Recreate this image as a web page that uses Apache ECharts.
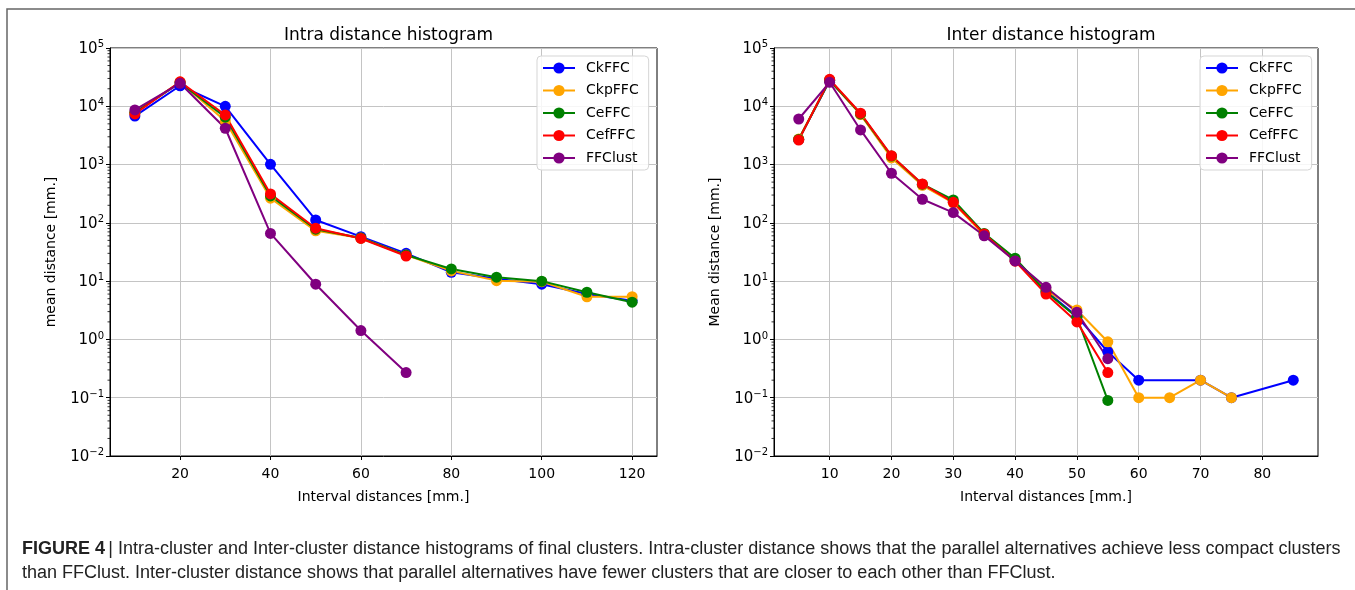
<!DOCTYPE html>
<html>
<head>
<meta charset="utf-8">
<script src="https://cdn.jsdelivr.net/npm/echarts@6/dist/echarts.min.js"></script>
<style>html,body{margin:0;padding:0;background:#fff;}#c{width:1355px;height:590px;}</style>
</head>
<body>
<div id="c"></div>
<script>
// ---------- data ----------
const seriesNames = ['CkFFC', 'CkpFFC', 'CeFFC', 'CefFFC', 'FFClust'];
const seriesColors = ['#0000ff', '#ffa500', '#008000', '#ff0000', '#800080'];

// Intra distance histogram
const intraX = [10, 20, 30, 40, 50, 60, 70, 80, 90, 100, 110, 120];
const intraCkFFC   = [6800, 22500, 10000, 1010, 112, 58, 30, 14.2, 11, 8.85, 6.0, 4.6];
const intraCkpFFC  = [7800, 26000, 5600, 265, 73, 55, 28, 15, 10.2, 9.8, 5.4, 5.4];
const intraCeFFC   = [7800, 25500, 6500, 290, 78, 55, 28, 16.2, 11.7, 10, 6.45, 4.35];
const intraCefFFC  = [7400, 26300, 7100, 313, 81, 54, 27, null, null, null, null, null];
const intraFFClust = [8650, 24800, 4200, 66, 8.85, 1.42, 0.27, null, null, null, null, null];

// Inter distance histogram
const interX = [5, 10, 15, 20, 25, 30, 35, 40, 45, 50, 55, 60, 65, 70, 75, 80, 85];
const interCkFFC   = [2700, 27500, 7400, 1350, 450, 230, 63, 23, 6.8, 2.5, 0.615, 0.2, null, 0.2, 0.1, null, 0.2];
const interCkpFFC  = [2750, 28000, 7200, 1300, 440, 220, 62, 23, 7.0, 3.2, 0.91, 0.1, 0.1, 0.2, 0.1, null, null];
const interCeFFC   = [2700, 28000, 7400, 1400, 460, 247, 66, 24.7, 6.5, 2.4, 0.09, null, null, null, null, null, null];
const interCefFFC  = [2640, 29000, 7600, 1420, 465, 225, 64.6, 22, 6.0, 2.0, 0.27, null, null, null, null, null, null];
const interFFClust = [6050, 25800, 3930, 710, 254, 150, 60, 22.2, 7.85, 2.93, 0.467, null, null, null, null, null, null];

// tick labels
const intraXTicks = [20, 40, 60, 80, 100, 120];
const interXTicks = [10, 20, 30, 40, 50, 60, 70, 80];
const yMin = 0.01, yMax = 100000;
const titles = ['Intra distance histogram', 'Inter distance histogram'];
const yNames = ['mean distance [mm.]', 'Mean distance [mm.]'];
const xName = 'Interval distances [mm.]';
const captionBold = 'FIGURE 4';
const captionLine1 = ' Intra-cluster and Inter-cluster distance histograms of final clusters. Intra-cluster distance shows that the parallel alternatives achieve less compact clusters';
const captionLine2 = 'than FFClust. Inter-cluster distance shows that parallel alternatives have fewer clusters that are closer to each other than FFClust.';

// ---------- chart ----------
const FONT = 'DejaVu Sans';
const CAP_FONT = 'Liberation Sans';
const intraSets = [intraCkFFC, intraCkpFFC, intraCeFFC, intraCefFFC, intraFFClust];
const interSets = [interCkFFC, interCkpFFC, interCeFFC, interCefFFC, interFFClust];

function pairs(xs, ys) { return xs.map((x, i) => [x, ys[i]]); }

// minor log tick positions (2..9 x 10^n)
const minorVals = [];
for (let e = -2; e < 5; e++) for (let m = 2; m <= 9; m++) minorVals.push(m * Math.pow(10, e));

function minorTickRender(params, api) {
  const p = api.coord([api.value(0), api.value(1)]);
  const x0 = params.coordSys.x;
  return { type: 'line', shape: { x1: x0 - 2.5, y1: p[1], x2: x0, y2: p[1] },
           style: { stroke: '#000', lineWidth: 0.8 } };
}

function yLabel(v) {
  const e = Math.round(Math.log10(v));
  return '{b|10}{s|' + (e < 0 ? '\u2212' + (-e) : e) + '}';
}

const grids = [
  { left: 110, top: 48, width: 547, height: 408 },
  { left: 774, top: 48, width: 544, height: 408 }
];
const xRanges = [[4.5, 125.5], [1, 89]];
const xTicks = [intraXTicks, interXTicks];

const option = {
  animation: false,
  backgroundColor: '#fff',
  textStyle: { fontFamily: FONT },
  title: titles.map((t, i) => ({
    text: t, left: grids[i].left + grids[i].width / 2, top: 22, textAlign: 'center',
    textStyle: { fontFamily: FONT, fontSize: 17, fontWeight: 'normal', color: '#000' }
  })),
  grid: grids.map(g => Object.assign({ show: true, borderColor: '#000', borderWidth: 1, backgroundColor: 'transparent' }, g)),
  legend: [0, 1].map(i => ({
    data: seriesNames,
    orient: 'vertical',
    left: i === 0 ? 537 : 1200,
    top: 56,
    itemWidth: 32, itemHeight: 14, itemGap: 8.5,
    padding: [5, 10, 5, 5],
    backgroundColor: 'rgba(255,255,255,0.85)',
    borderColor: '#d5d5d5', borderWidth: 1, borderRadius: 4,
    textStyle: { fontFamily: FONT, fontSize: 14, color: '#000', padding: [0, 0, 0, 6] }
  })),
  xAxis: [0, 1].map(i => ({
    type: 'value', gridIndex: i, min: xRanges[i][0], max: xRanges[i][1],
    name: xName, nameLocation: 'middle', nameGap: 34,
    nameTextStyle: { fontFamily: FONT, fontSize: 14, color: '#000' },
    axisLine: { show: true, lineStyle: { color: '#000', width: 1 } },
    axisTick: { show: true, length: 4, customValues: xTicks[i], lineStyle: { color: '#000' } },
    axisLabel: { customValues: xTicks[i], fontFamily: FONT, fontSize: 14, color: '#000', margin: 11 },
    splitLine: { show: true, lineStyle: { color: '#c4c4c4', width: 1 } }
  })),
  yAxis: [0, 1].map(i => ({
    type: 'log', logBase: 10, gridIndex: i, min: yMin, max: yMax, splitNumber: 7,
    name: yNames[i], nameLocation: 'middle', nameGap: 52,
    nameTextStyle: { fontFamily: FONT, fontSize: 14, color: '#000' },
    axisLine: { show: true, lineStyle: { color: '#000', width: 1 } },
    axisTick: { show: true, length: 4, lineStyle: { color: '#000' } },
    minorTick: { show: false },
    axisLabel: {
      formatter: yLabel, margin: 6,
      rich: {
        b: { fontFamily: FONT, fontSize: 15, color: '#000', lineHeight: 17, verticalAlign: 'bottom' },
        s: { fontFamily: FONT, fontSize: 10, color: '#000', lineHeight: 11, verticalAlign: 'top' }
      }
    },
    splitLine: { show: true, lineStyle: { color: '#c4c4c4', width: 1 } }
  })),
  series: []
};

[[intraX, intraSets], [interX, interSets]].forEach(([xs, sets], gi) => {
  sets.forEach((ys, si) => {
    option.series.push({
      name: seriesNames[si], type: 'line', xAxisIndex: gi, yAxisIndex: gi,
      data: pairs(xs, ys), connectNulls: true,
      symbol: 'circle', symbolSize: 11, showAllSymbol: true,
      lineStyle: { width: 2, color: seriesColors[si] },
      itemStyle: { color: seriesColors[si] },
      emphasis: { disabled: true }
    });
  });
  option.series.push({
    type: 'custom', xAxisIndex: gi, yAxisIndex: gi, silent: true,
    renderItem: minorTickRender, clip: false,
    data: minorVals.map(v => [xRanges[gi][0], v])
  });
});

option.graphic = [
  { type: 'rect', shape: { x: 7, y: 9, width: 1400, height: 700 }, style: { fill: 'none', stroke: '#666', lineWidth: 1.5 }, silent: true },
  { type: 'text', x: 22, y: 540, scaleX: 1.0, style: {
      text: '{bb|' + captionBold + '} {bar||}{n|' + captionLine1 + '}',
      rich: {
        bb: { fontFamily: CAP_FONT, fontSize: 18, fontWeight: 'bold', fill: '#222' },
        bar: { fontFamily: CAP_FONT, fontSize: 18, fill: '#222' },
        n: { fontFamily: CAP_FONT, fontSize: 18, fill: '#222' }
      } } },
  { type: 'text', x: 22, y: 564, scaleX: 1.0, style: {
      text: captionLine2, fontFamily: CAP_FONT, fontSize: 18, fill: '#222' } }
];

const chart = echarts.init(document.getElementById('c'), null, { renderer: 'canvas' });
chart.setOption(option);
</script>
</body>
</html>
